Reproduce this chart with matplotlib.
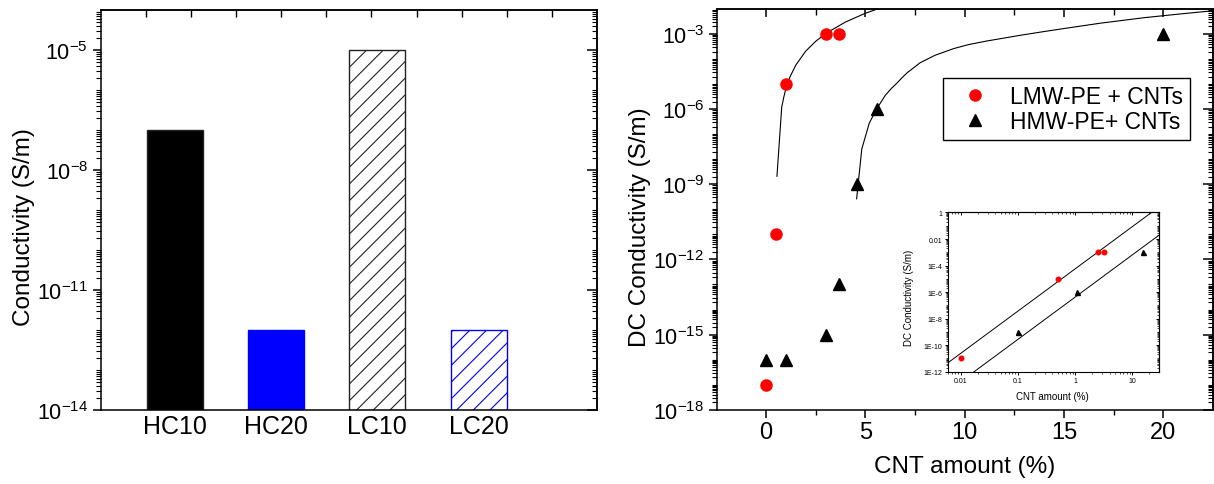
import numpy as np
import matplotlib
matplotlib.use('Agg')
import matplotlib.pyplot as plt
from matplotlib.ticker import (FixedLocator, FuncFormatter, NullFormatter,
                               FixedFormatter, MultipleLocator)

plt.rcParams['font.family'] = ['Liberation Sans', 'DejaVu Sans']
plt.rcParams['mathtext.fontset'] = 'custom'
plt.rcParams['mathtext.rm'] = 'Liberation Sans'
plt.rcParams['mathtext.it'] = 'Liberation Sans:italic'
plt.rcParams['mathtext.bf'] = 'Liberation Sans:bold'
plt.rcParams['hatch.linewidth'] = 0.8
plt.rcParams['axes.linewidth'] = 1.1

# --- left panel: bar chart -------------------------------------------------
samples     = ['HC10', 'HC20', 'LC10', 'LC20']
sample_cond = [1e-7, 1e-12, 1e-5, 1e-12]
bar_face    = ['black', '#0000ff', 'white', 'white']
bar_edge    = ['#222222', '#0000ff', '#222222', '#0000ff']
bar_hatch   = [None, None, '//', '//']

# --- right panel: conductivity vs CNT amount -------------------------------
lmw_cnt  = [0, 0.5, 1, 3, 3.67]
lmw_cond = [1e-17, 1e-11, 1e-5, 1e-3, 1e-3]
hmw_cnt  = [0, 1, 3, 3.67, 4.6, 5.6, 20]
hmw_cond = [1e-16, 1e-16, 1e-15, 1e-13, 1e-9, 1e-6, 1e-3]

# fitted curves (log10 of conductivity)
lmw_fit_cnt  = [0.55, 0.79, 0.9, 1.0, 1.2, 1.5, 2.0, 2.5, 3.0, 4.0, 5.0, 5.75]
lmw_fit_logc = [-8.68, -5.92, -5.50, -5.18, -4.72, -4.24, -3.68, -3.29,
                -2.98, -2.52, -2.17, -1.96]
hmw_fit_cnt  = [4.56, 4.82, 5.2, 5.6, 6.0, 6.3, 6.6, 6.85, 7.1, 7.75, 8.5,
                9.45, 10.2, 11.1, 12.8, 14.0, 15.0, 16.8, 17.9, 19.0, 20.7,
                22.5]
hmw_fit_logc = [-9.58, -7.59, -6.55, -5.95, -5.45, -5.18, -4.95, -4.74, -4.55,
                -4.15, -3.85, -3.58, -3.42, -3.28, -3.05, -2.90, -2.78, -2.57,
                -2.46, -2.35, -2.21, -2.07]

# inset: log-log vs (x - x_c)
ins_lmw_x = [0.01, 0.5, 2.5, 3.2]
ins_lmw_y = [1e-11, 1e-5, 1e-3, 1e-3]
ins_hmw_x = [0.1, 1.1, 15.5]
ins_hmw_y = [1e-9, 1e-6, 1e-3]
ins_lmw_line_x = [0.005, 30]
ins_lmw_line_y = [10**-11.57, 10**0.45]
ins_hmw_line_x = [0.005, 30]
ins_hmw_line_y = [10**-13.7, 10**-1.68]
ins_xticks  = [0.01, 0.1, 1, 10]
ins_xlabels = ['0.01', '0.1', '1', '10']
ins_yticks  = [1e-12, 1e-10, 1e-8, 1e-6, 1e-4, 1e-2, 1]
ins_ylabels = ['1E-12', '1E-10', '1E-8', '1E-6', '1E-4', '0.01', '1']


def log_ticks(lo, hi, step):
    majors = [10.0 ** k for k in range(lo, hi + 1, step)]
    minors = [s * 10.0 ** k for k in range(lo, hi) for s in range(1, 10)
              if not (s == 1 and (k - lo) % step == 0)]
    return majors, minors


def pow_fmt(v, p):
    return r'$10^{%d}$' % int(round(np.log10(v)))


def log_y(ax, lo, hi, step, labelsize, major_len=6, minor_len=3.5):
    majors, minors = log_ticks(lo, hi, step)
    ax.yaxis.set_major_locator(FixedLocator(majors))
    ax.yaxis.set_minor_locator(FixedLocator(minors))
    ax.yaxis.set_major_formatter(FuncFormatter(pow_fmt))
    ax.yaxis.set_minor_formatter(NullFormatter())
    ax.tick_params(axis='y', which='major', direction='out', length=major_len,
                   width=1.1, labelsize=labelsize, pad=3)
    ax.tick_params(axis='y', which='minor', direction='out', length=minor_len,
                   width=0.8)
    sy = ax.secondary_yaxis('right')
    sy.yaxis.set_major_locator(FixedLocator(majors))
    sy.yaxis.set_minor_locator(FixedLocator(minors))
    sy.yaxis.set_major_formatter(NullFormatter())
    sy.yaxis.set_minor_formatter(NullFormatter())
    sy.tick_params(which='major', direction='in', length=major_len + 1,
                   width=1.1)
    sy.tick_params(which='minor', direction='in', length=minor_len, width=0.8)
    return sy


fig = plt.figure(figsize=(12.14, 4.85), dpi=100)

# ---------------------------------------------------------------------------
ax1 = fig.add_axes([0.0829, 0.1532, 0.4089, 0.8247])
pos = np.arange(1, len(samples) + 1)
for p, v, fc, ec, h in zip(pos, sample_cond, bar_face, bar_edge, bar_hatch):
    ax1.bar(p, v, width=0.553, color=fc, edgecolor=ec, hatch=h, linewidth=1.0)
ax1.set_yscale('log')
ax1.set_ylim(1e-14, 1e-4)
xl1 = (0.267, 5.17)
ax1.set_xlim(*xl1)
log_y(ax1, -14, -4, 3, 15.5)
ax1.set_xticks(pos, samples)
ax1.tick_params(axis='x', length=0, labelsize=18, pad=3)
sx1 = ax1.secondary_xaxis('top')
sx1.set_xticks(np.linspace(xl1[0], xl1[1], 12)[1:-1])
sx1.xaxis.set_major_formatter(NullFormatter())
sx1.tick_params(direction='in', length=5, width=1.0)
ax1.set_ylabel('Conductivity (S/m)', fontsize=17.5)
ax1.yaxis.set_label_coords(-0.132, 0.458)

# ---------------------------------------------------------------------------
ax2 = fig.add_axes([0.5904, 0.1532, 0.4085, 0.8262])
ax2.plot(lmw_fit_cnt, 10.0 ** np.array(lmw_fit_logc), color='black', lw=0.8)
ax2.plot(hmw_fit_cnt, 10.0 ** np.array(hmw_fit_logc), color='black', lw=0.8)
ax2.plot(lmw_cnt, lmw_cond, 'o', color='#ff0000', mec='#ff0000', ms=8,
         label='LMW-PE + CNTs')
ax2.plot(hmw_cnt, hmw_cond, '^', color='black', ms=9, label='HMW-PE+ CNTs')
ax2.set_yscale('log')
ax2.set_ylim(1e-18, 1e-2)
ax2.set_xlim(-2.48, 22.48)
log_y(ax2, -18, -2, 3, 15.5)
ax2.xaxis.set_major_locator(MultipleLocator(5))
ax2.xaxis.set_minor_locator(MultipleLocator(2.5))
ax2.tick_params(axis='x', which='major', direction='out', length=6, width=1.1,
                labelsize=17, pad=2)
ax2.tick_params(axis='x', which='minor', direction='out', length=3.5,
                width=1.0)
sx2 = ax2.secondary_xaxis('top')
sx2.xaxis.set_major_locator(MultipleLocator(5))
sx2.xaxis.set_minor_locator(MultipleLocator(2.5))
sx2.xaxis.set_major_formatter(NullFormatter())
sx2.tick_params(which='major', direction='in', length=6, width=1.1)
sx2.tick_params(which='minor', direction='in', length=4, width=1.0)
ax2.set_ylabel('DC Conductivity (S/m)', fontsize=17.5)
ax2.yaxis.set_label_coords(-0.132, 0.458)
ax2.set_xlabel('CNT amount (%)', fontsize=17.5)
ax2.xaxis.set_label_coords(0.5, -0.112)

leg = ax2.legend(loc='upper left', bbox_to_anchor=(0.457, 0.827),
                 borderaxespad=0, fontsize=16.5, fancybox=False,
                 edgecolor='black', framealpha=1, handlelength=2.2,
                 handletextpad=0.4, labelspacing=0.1, borderpad=0.3,
                 numpoints=1)
leg.get_frame().set_linewidth(1.0)

# ---------------------------------------------------------------------------
ax3 = fig.add_axes([0.7805, 0.2316, 0.1745, 0.3282])
for s in ax3.spines.values():
    s.set_linewidth(0.8)
ax3.plot(ins_lmw_line_x, ins_lmw_line_y, color='black', lw=0.7)
ax3.plot(ins_hmw_line_x, ins_hmw_line_y, color='black', lw=0.7)
ax3.plot(ins_lmw_x, ins_lmw_y, 'o', color='#ff0000', mec='#ff0000', ms=3.3)
ax3.plot(ins_hmw_x, ins_hmw_y, '^', color='black', ms=3.6)
ax3.set_xscale('log')
ax3.set_yscale('log')
ax3.set_xlim(0.00585, 29.8)
ax3.set_ylim(1e-12, 1)
ax3.xaxis.set_major_locator(FixedLocator(ins_xticks))
ax3.xaxis.set_major_formatter(FixedFormatter(ins_xlabels))
ax3.yaxis.set_major_locator(FixedLocator(ins_yticks))
ax3.yaxis.set_major_formatter(FixedFormatter(ins_ylabels))
_, ins_yminor = log_ticks(-12, 0, 2)
ax3.yaxis.set_minor_locator(FixedLocator(ins_yminor))
ax3.yaxis.set_minor_formatter(NullFormatter())
ax3.xaxis.set_minor_formatter(NullFormatter())
ax3.tick_params(which='major', direction='out', length=2.5, width=0.7,
                labelsize=5, pad=1)
ax3.tick_params(which='minor', direction='out', length=1.3, width=0.5)

sx3 = ax3.secondary_xaxis('top')
sx3.xaxis.set_major_locator(FixedLocator(ins_xticks))
sx3.xaxis.set_major_formatter(NullFormatter())
sx3.xaxis.set_minor_formatter(NullFormatter())
sy3 = ax3.secondary_yaxis('right')
sy3.yaxis.set_major_locator(FixedLocator(ins_yticks))
sy3.yaxis.set_minor_locator(FixedLocator(ins_yminor))
sy3.yaxis.set_major_formatter(NullFormatter())
sy3.yaxis.set_minor_formatter(NullFormatter())
for sec in (sx3, sy3):
    sec.tick_params(which='major', direction='in', length=2.5, width=0.7)
    sec.tick_params(which='minor', direction='in', length=1.3, width=0.5)
    sec.spines[:].set_linewidth(0.8)
ax3.set_ylabel('DC Conductivity (S/m)', fontsize=7)
ax3.yaxis.set_label_coords(-0.16, 0.472)
ax3.set_xlabel('CNT amount (%)', fontsize=7)
ax3.xaxis.set_label_coords(0.497, -0.12)

fig.savefig('out.png', dpi=100)
